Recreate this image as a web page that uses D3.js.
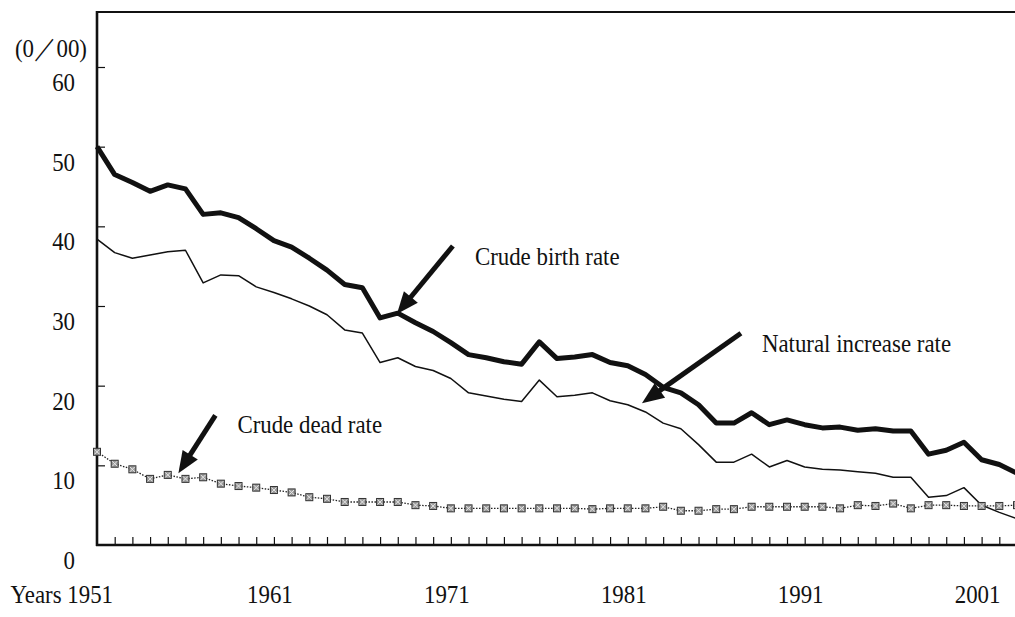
<!DOCTYPE html>
<html>
<head>
<meta charset="utf-8">
<script src="https://cdnjs.cloudflare.com/ajax/libs/d3/7.8.5/d3.min.js"></script>
<style>
  body { margin: 0; background: #fff; }
  svg { display: block; }
  text { font-family: "Liberation Serif", "Times New Roman", serif; fill: #111; }
</style>
</head>
<body>
<div id="chart"></div>
<script>
// data (per thousand)
const years = [1951, 1952, 1953, 1954, 1955, 1956, 1957, 1958, 1959, 1960,
  1961, 1962, 1963, 1964, 1965, 1966, 1967, 1968, 1969, 1970,
  1971, 1972, 1973, 1974, 1975, 1976, 1977, 1978, 1979, 1980,
  1981, 1982, 1983, 1984, 1985, 1986, 1987, 1988, 1989, 1990,
  1991, 1992, 1993, 1994, 1995, 1996, 1997, 1998, 1999, 2000,
  2001, 2002, 2003]

const birthRate = [50.0, 46.5, 45.5, 44.4, 45.2, 44.7, 41.5, 41.7, 41.1, 39.7,
  38.2, 37.4, 36.0, 34.5, 32.7, 32.3, 28.5, 29.1, 27.9, 26.8,
  25.4, 23.9, 23.5, 23.0, 22.7, 25.5, 23.4, 23.6, 23.9, 22.9,
  22.5, 21.4, 19.8, 19.1, 17.6, 15.3, 15.3, 16.6, 15.1, 15.7,
  15.1, 14.7, 14.8, 14.4, 14.6, 14.3, 14.3, 11.4, 11.9, 12.9,
  10.7, 10.1, 9.0]

const naturalRate = [38.4, 36.7, 36.0, 36.4, 36.8, 37.0, 32.9, 33.9, 33.8, 32.4,
  31.7, 30.9, 30.0, 28.9, 27.0, 26.6, 22.9, 23.5, 22.4, 21.9,
  20.9, 19.1, 18.7, 18.3, 18.0, 20.7, 18.6, 18.8, 19.1, 18.1,
  17.6, 16.7, 15.3, 14.6, 12.6, 10.4, 10.4, 11.4, 9.8, 10.6,
  9.8, 9.5, 9.4, 9.2, 9.0, 8.5, 8.5, 6.0, 6.2, 7.2,
  5.0, 4.1, 3.3]

const deathRate = [11.7, 10.2, 9.5, 8.3, 8.8, 8.3, 8.5, 7.7, 7.4, 7.2,
  6.9, 6.6, 6.0, 5.8, 5.4, 5.4, 5.4, 5.4, 5.0, 4.9,
  4.6, 4.6, 4.6, 4.6, 4.6, 4.6, 4.6, 4.6, 4.5, 4.6,
  4.6, 4.6, 4.8, 4.3, 4.3, 4.5, 4.5, 4.8, 4.8, 4.8,
  4.8, 4.8, 4.6, 5.0, 4.9, 5.2, 4.6, 5.0, 5.0, 4.9,
  4.9, 4.9, 5.0]

const yTicks = [10, 20, 30, 40, 50, 60]
const yLabels = [0, 10, 20, 30, 40, 50, 60]
const xLabels = [1951, 1961, 1971, 1981, 1991, 2001]

// annotation arrows: tip in data units, tail as pixel offset
const notes = [
  {text: "Crude birth rate", year: 1967.95, value: 29.0, dx: 56, dy: -68, tx: 78, ty: -49},
  {text: "Natural increase rate", year: 1981.8, value: 17.8, dx: 99, dy: -70, tx: 120, ty: -51},
  {text: "Crude dead rate", year: 1955.6, value: 9.0, dx: 37, dy: -58, tx: 59, ty: -40}
]

const svgWidth = 1015
const svgHeight = 617
const xScaleX = 0.88   // the source lettering is narrow

let svg = d3.select("#chart")
  .append("svg")
  .attr("width", svgWidth)
  .attr("height", svgHeight)

let x = d3.scaleLinear()
  .domain([1951, 2003])
  .range([97, 1017])

let y = d3.scaleLinear()
  .domain([0, 60])
  .range([545, 67])

// frame lines
svg.append("line")
  .attr("x1", 97).attr("x2", svgWidth)
  .attr("y1", 12).attr("y2", 12)
  .attr("stroke", "#111").attr("stroke-width", 2.2)

// ticks
let xAxis = svg.append("g")
  .attr("transform", `translate(0, ${y(0)})`)
  .call(d3.axisBottom(x)
    .tickValues(years.slice(1))
    .tickSizeInner(-8)
    .tickSizeOuter(0)
    .tickFormat(""))
xAxis.select(".domain").remove()
xAxis.selectAll("line").attr("stroke", "#111").attr("stroke-width", 1.2)

let yAxis = svg.append("g")
  .attr("transform", `translate(${x(1951)}, 0)`)
  .call(d3.axisRight(y)
    .tickValues(yTicks)
    .tickSizeInner(8)
    .tickSizeOuter(0)
    .tickFormat(""))
yAxis.select(".domain").remove()
yAxis.selectAll("line").attr("stroke", "#111").attr("stroke-width", 1.2)

svg.append("line")
  .attr("x1", x(1951)).attr("x2", x(1951))
  .attr("y1", 11).attr("y2", y(0) + 1)
  .attr("stroke", "#111").attr("stroke-width", 2.6)

svg.append("line")
  .attr("x1", x(1951) - 1).attr("x2", svgWidth)
  .attr("y1", y(0)).attr("y2", y(0))
  .attr("stroke", "#111").attr("stroke-width", 2.6)

function label(px, py, str, anchor) {
  return svg.append("text")
    .attr("transform", `translate(${px}, ${py}) scale(${xScaleX}, 1)`)
    .attr("text-anchor", anchor)
    .attr("font-size", 26)
    .text(str)
}

// y labels sit a little below their ticks, as in the source
yLabels.forEach(v => label(75, y(v) + 24, String(v), "end"))
label(15, 57, "(0\uFF0F00)", "start")

// x labels
xLabels.forEach(yr => {
  if (yr === 1951) label(x(yr) + 16, 603, "Years " + yr, "end")
  else label(x(yr) - 4, 603, String(yr), "middle")
})

// series
let lineGen = vals => d3.line()
  .x((d, i) => x(years[i]))
  .y(d => y(d))(vals)

svg.append("path")
  .attr("d", lineGen(naturalRate))
  .attr("fill", "none")
  .attr("stroke", "#111")
  .attr("stroke-width", 1.5)
  .attr("stroke-linejoin", "round")

svg.append("path")
  .attr("d", lineGen(birthRate))
  .attr("fill", "none")
  .attr("stroke", "#111")
  .attr("stroke-width", 5)
  .attr("stroke-linejoin", "round")

svg.append("path")
  .attr("d", lineGen(deathRate))
  .attr("fill", "none")
  .attr("stroke", "#222")
  .attr("stroke-width", 1.3)
  .attr("stroke-dasharray", "1.5,1.5")

let markers = svg.append("g")
  .selectAll("g")
  .data(deathRate)
  .enter()
  .append("g")
  .attr("transform", (d, i) => `translate(${x(years[i])}, ${y(d)})`)

markers.append("rect")
  .attr("x", -3.5).attr("y", -3.5)
  .attr("width", 7).attr("height", 7)
  .attr("fill", "#9a9a9a")
  .attr("stroke", "#333")
  .attr("stroke-width", 1)

markers.append("path")
  .attr("d", "M-2.5,-2.5L2.5,2.5M2.5,-2.5L-2.5,2.5")
  .attr("stroke", "#e6e6e6")
  .attr("stroke-width", 1)

// arrows + their captions
notes.forEach(n => {
  let tipX = x(n.year)
  let tipY = y(n.value)
  let tailX = tipX + n.dx
  let tailY = tipY + n.dy
  let len = Math.hypot(n.dx, n.dy)
  let ux = n.dx / len
  let uy = n.dy / len
  let headLen = 22
  let headW = 9
  let bx = tipX + ux * headLen
  let by = tipY + uy * headLen

  svg.append("line")
    .attr("x1", tailX).attr("y1", tailY)
    .attr("x2", tipX + ux * (headLen - 2)).attr("y2", tipY + uy * (headLen - 2))
    .attr("stroke", "#111")
    .attr("stroke-width", 5)

  svg.append("path")
    .attr("d", `M${tipX},${tipY}L${bx - uy * headW},${by + ux * headW}L${bx + uy * headW},${by - ux * headW}Z`)
    .attr("fill", "#111")

  label(tipX + n.tx, tipY + n.ty, n.text, "start")
})
</script>
</body>
</html>
